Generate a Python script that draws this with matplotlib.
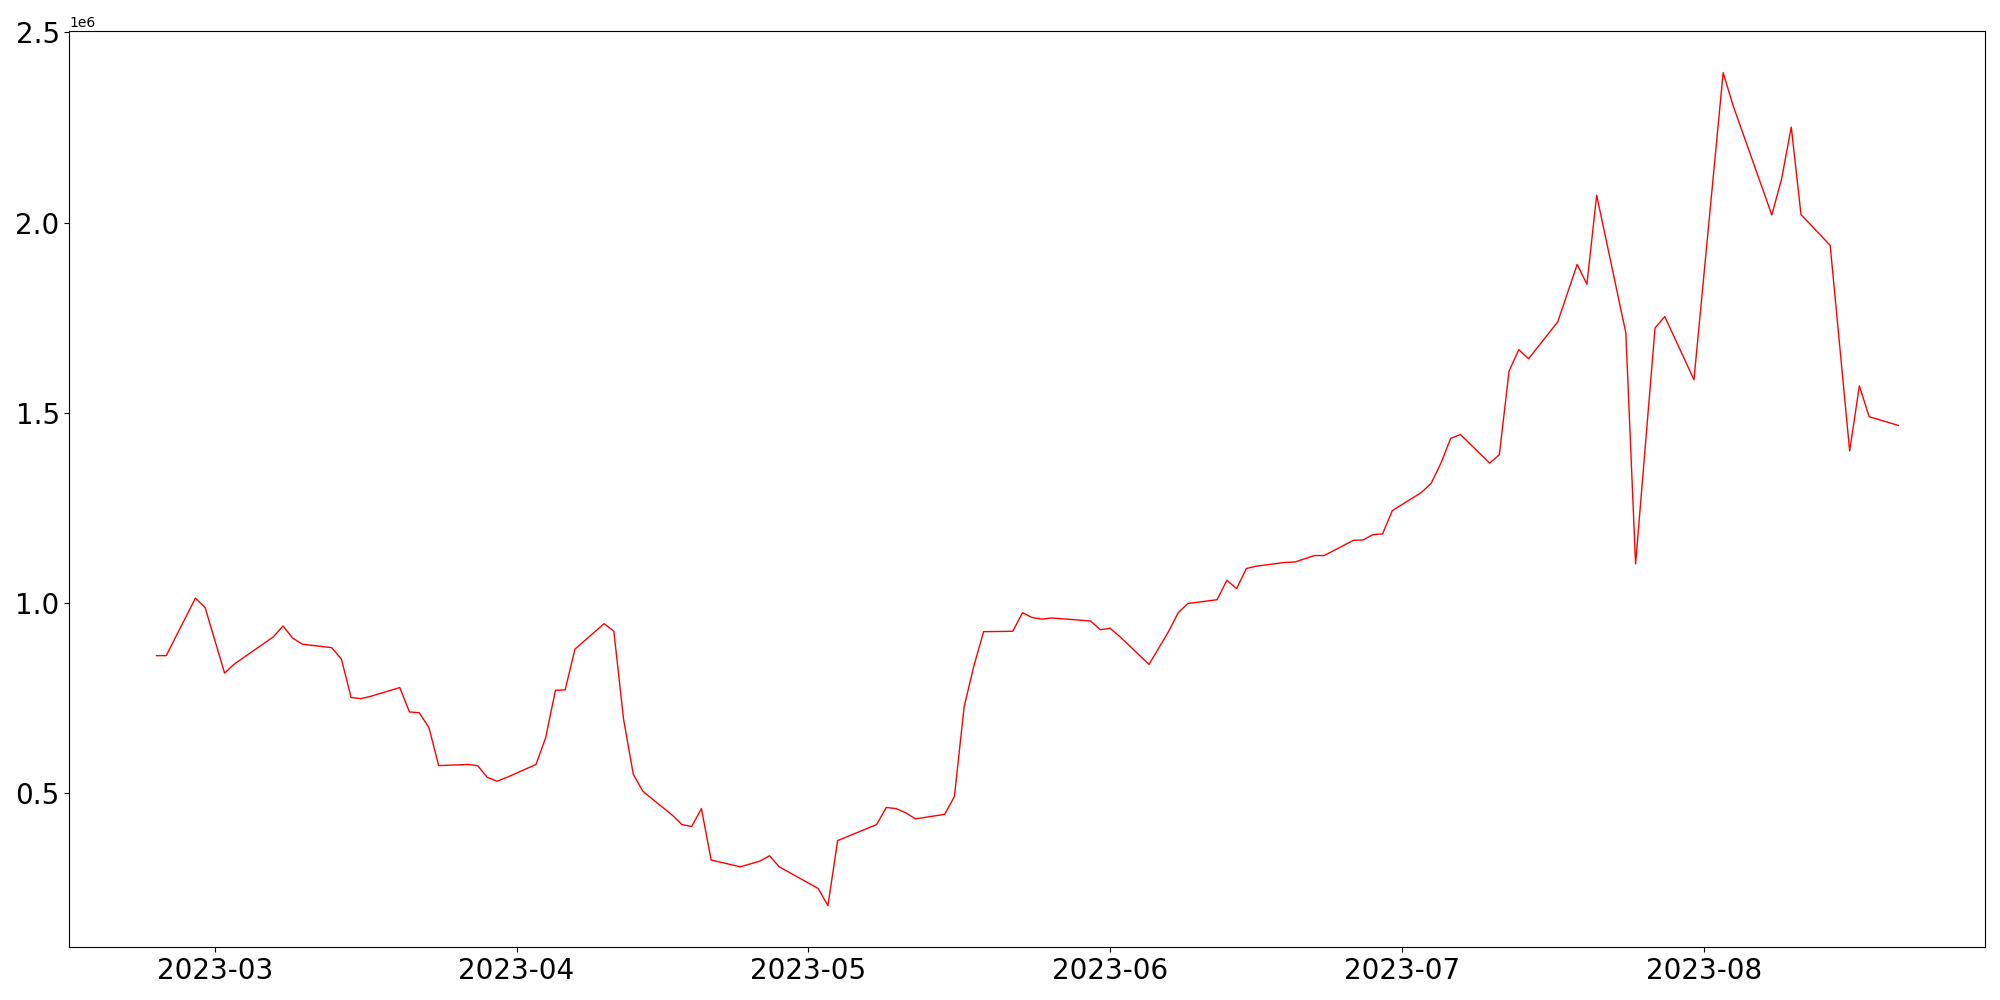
import matplotlib
matplotlib.use('Agg')
import matplotlib.pyplot as plt
import pandas as pd

dates = [
    '2023-02-23', '2023-02-24', '2023-02-27', '2023-02-28', '2023-03-02', '2023-03-03',
    '2023-03-07', '2023-03-08', '2023-03-09', '2023-03-10', '2023-03-13', '2023-03-14',
    '2023-03-15', '2023-03-16', '2023-03-17', '2023-03-20', '2023-03-21', '2023-03-22',
    '2023-03-23', '2023-03-24', '2023-03-27', '2023-03-28', '2023-03-29', '2023-03-30',
    '2023-03-31', '2023-04-03', '2023-04-04', '2023-04-05', '2023-04-06', '2023-04-07',
    '2023-04-10', '2023-04-11', '2023-04-12', '2023-04-13', '2023-04-14', '2023-04-17',
    '2023-04-18', '2023-04-19', '2023-04-20', '2023-04-21', '2023-04-24', '2023-04-26',
    '2023-04-27', '2023-04-28', '2023-05-02', '2023-05-03', '2023-05-04', '2023-05-08',
    '2023-05-09', '2023-05-10', '2023-05-11', '2023-05-12', '2023-05-15', '2023-05-16',
    '2023-05-17', '2023-05-18', '2023-05-19', '2023-05-22', '2023-05-23', '2023-05-24',
    '2023-05-25', '2023-05-26', '2023-05-30', '2023-05-31', '2023-06-01', '2023-06-02',
    '2023-06-05', '2023-06-07', '2023-06-08', '2023-06-09', '2023-06-12', '2023-06-13',
    '2023-06-14', '2023-06-15', '2023-06-16', '2023-06-19', '2023-06-20', '2023-06-22',
    '2023-06-23', '2023-06-26', '2023-06-27', '2023-06-28', '2023-06-29', '2023-06-30',
    '2023-07-03', '2023-07-04', '2023-07-05', '2023-07-06', '2023-07-07', '2023-07-10',
    '2023-07-11', '2023-07-12', '2023-07-13', '2023-07-14', '2023-07-17', '2023-07-19',
    '2023-07-20', '2023-07-21', '2023-07-24', '2023-07-25', '2023-07-27', '2023-07-28',
    '2023-07-31', '2023-08-03', '2023-08-04', '2023-08-08', '2023-08-09', '2023-08-10',
    '2023-08-11', '2023-08-14', '2023-08-16', '2023-08-17', '2023-08-18', '2023-08-21',
]

values = [
    0.862, 0.862, 1.013, 0.988, 0.816, 0.840,
    0.911, 0.940, 0.908, 0.892, 0.883, 0.853,
    0.752, 0.749, 0.755, 0.778, 0.714, 0.712,
    0.673, 0.573, 0.576, 0.573, 0.542, 0.532,
    0.542, 0.576, 0.647, 0.771, 0.772, 0.879,
    0.946, 0.926, 0.695, 0.550, 0.505, 0.443,
    0.418, 0.413, 0.460, 0.325, 0.307, 0.322,
    0.336, 0.307, 0.250, 0.205, 0.376, 0.418,
    0.463, 0.460, 0.449, 0.433, 0.445, 0.492,
    0.728, 0.835, 0.925, 0.926, 0.975, 0.962,
    0.958, 0.961, 0.953, 0.930, 0.934, 0.912,
    0.839, 0.925, 0.975, 0.999, 1.009, 1.060,
    1.038, 1.091, 1.097, 1.107, 1.108, 1.125,
    1.125, 1.165, 1.166, 1.180, 1.182, 1.243,
    1.291, 1.315, 1.368, 1.433, 1.443, 1.368,
    1.390, 1.610, 1.666, 1.642, 1.739, 1.890,
    1.838, 2.072, 1.710, 1.103, 1.723, 1.753,
    1.587, 2.394, 2.309, 2.020, 2.114, 2.251,
    2.021, 1.940, 1.400, 1.571, 1.490, 1.467,
]

x = pd.to_datetime(dates)
y = [v * 1e6 for v in values]

fig, ax = plt.subplots(figsize=(20, 10), dpi=100)
ax.plot(x, y, color='red', linewidth=1)

plt.xticks(fontsize=20)
plt.yticks(fontsize=20)

fig.subplots_adjust(left=0.0347, right=0.9927, bottom=0.0527, top=0.969)
plt.savefig('out.png')
